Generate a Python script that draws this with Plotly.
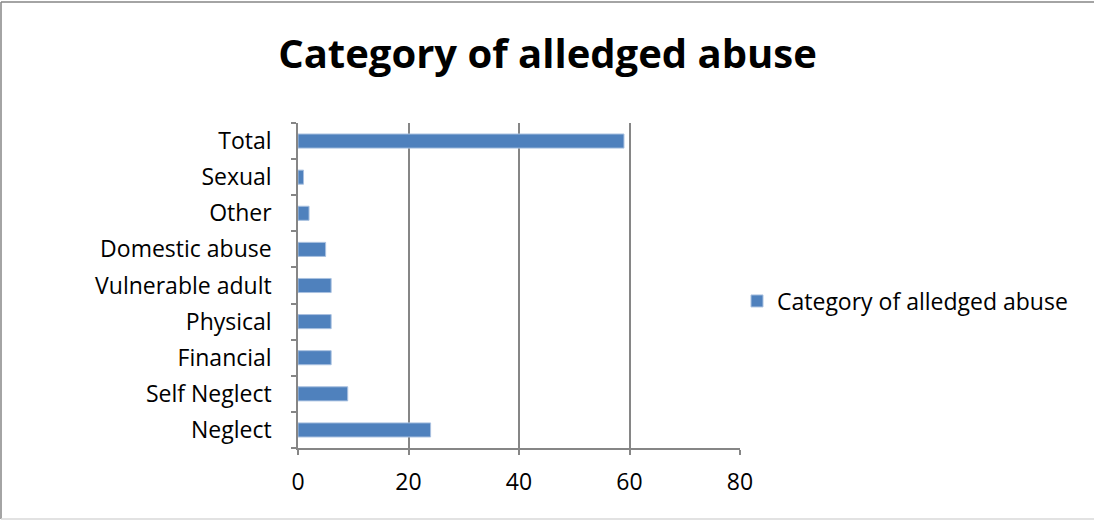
import plotly.graph_objects as go

categories = ["Neglect", "Self Neglect", "Financial", "Physical", "Vulnerable adult",
              "Domestic abuse", "Other", "Sexual", "Total"]
counts = [24, 9, 6, 6, 6, 5, 2, 1, 59]
series_name = "Category of alledged abuse"
x_ticks = [0, 20, 40, 60, 80]

FONT = "Open Sans"
GRID = "#868686"

fig = go.Figure()
fig.add_trace(go.Bar(
    y=categories, x=counts, orientation="h", name=series_name,
    marker=dict(color="#4F81BD", line=dict(color="#A9C1E0", width=1)),
    showlegend=True,
))

L, R, T, B = 298, 355, 123, 72
W, H = 1095, 520
pw, ph = W - L - R, H - T - B

def px_x(x):
    return (x - L) / pw

def px_y(y):
    return (H - B - y) / ph

def frame_line(x0, y0, x1, y1, color):
    return dict(type="line", xref="paper", yref="paper",
                x0=px_x(x0), x1=px_x(x1), y0=px_y(y0), y1=px_y(y1),
                line=dict(color=color, width=1.5), layer="below")

fig.update_layout(
    width=W, height=H,
    margin=dict(l=L, r=R, t=T, b=B),
    paper_bgcolor="white", plot_bgcolor="white",
    bargap=0.61,
    title=dict(text="<b>Category of alledged abuse</b>", x=0.5, xanchor="center",
               y=1 - 54 / H, yanchor="middle",
               font=dict(family=FONT, size=40, color="black")),
    xaxis=dict(range=[0, 80], tickvals=x_ticks, showgrid=True, gridcolor=GRID, gridwidth=1.5,
               showline=True, linecolor=GRID, linewidth=1.5, ticks="outside", ticklen=5,
               tickcolor=GRID, tickwidth=1.5, zeroline=False, ticklabelstandoff=8,
               tickfont=dict(family=FONT, size=23, color="black")),
    yaxis=dict(categoryorder="array", categoryarray=categories, showgrid=False,
               showline=True, linecolor=GRID, linewidth=1.5, ticks="outside", ticklen=5,
               tickcolor=GRID, tickwidth=1.5, tickson="boundaries", ticklabelstandoff=20,
               tickfont=dict(family=FONT, size=23, color="black")),
    legend=dict(x=px_x(737), xanchor="left", y=px_y(301), yanchor="middle",
                font=dict(family=FONT, size=23, color="black"),
                bgcolor="rgba(0,0,0,0)", itemwidth=30),
    shapes=[
        frame_line(1, 2, 1094, 2, GRID),        # top edge
        frame_line(1, 2, 1, 519, GRID),         # left edge
        frame_line(1, 519, 1094, 519, "#D9D9D9"),  # bottom edge
    ],
)

fig.write_html("out.html")
